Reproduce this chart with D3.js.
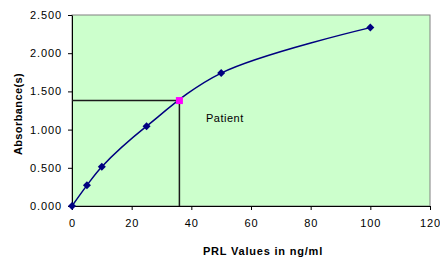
<!DOCTYPE html>
<html><head><meta charset="utf-8">
<script src="https://cdn.jsdelivr.net/npm/d3@7"></script>
<style>body{margin:0;background:#fff}svg{display:block;font-family:"Liberation Sans",Arial,sans-serif}</style>
</head><body>
<svg id="c" width="440" height="258"></svg>
<script>
const concentrations = [0, 5, 10, 25, 50, 100];
const absorbances = [0, 0.27, 0.515, 1.045, 1.74, 2.335];
const patientValue = [36, 1.38];
const xTicks = [0, 20, 40, 60, 80, 100, 120];
const yTicks = [0, 0.5, 1.0, 1.5, 2.0, 2.5];
const xTitle = "PRL Values in ng/ml";
const yTitle = "Absorbance(s)";
const patientLabel = "Patient";

const svg = d3.select("#c");
const L = 72, R = 430, T = 15, B = 206;
const x = d3.scaleLinear().domain([0, 120]).range([L, R]);
const y = d3.scaleLinear().domain([0, 2.5]).range([B, T]);

svg.append("rect").attr("x", L).attr("y", T).attr("width", R - L).attr("height", B - T)
  .attr("fill", "#CCFFCC").attr("stroke", "#808080").attr("stroke-width", 1);

// axes
const xa = svg.append("g").attr("transform", `translate(0,${B})`)
  .call(d3.axisBottom(x).tickValues(xTicks).tickSize(4).tickSizeOuter(0).tickFormat(d3.format("d")));
const ya = svg.append("g").attr("transform", `translate(${L},0)`)
  .call(d3.axisLeft(y).tickValues(yTicks).tickSize(4).tickSizeOuter(0).tickFormat(d3.format(".3f")));
[xa, ya].forEach(a => {
  a.select(".domain").attr("stroke", "#000").attr("stroke-width", 1);
  a.selectAll(".tick line").attr("stroke", "#000");
  a.selectAll("text").attr("font-size", 11).attr("fill", "#000").attr("letter-spacing", 0.9)
    .attr("font-family", '"Liberation Sans",Arial,sans-serif');
});
xa.selectAll("text").attr("dy", "1.3em");
ya.selectAll("text").attr("x", -10);

// patient reference lines
svg.append("path")
  .attr("d", `M${x(0)},${y(patientValue[1])}H${x(patientValue[0])}V${y(0)}`)
  .attr("fill", "none").attr("stroke", "#1a1a1a").attr("stroke-width", 1.5);

// curve
svg.append("path")
  .datum(concentrations.map((c, i) => [c, absorbances[i]]))
  .attr("d", d3.line().x(d => x(d[0])).y(d => y(d[1])).curve(d3.curveCatmullRom.alpha(0.5)))
  .attr("fill", "none").attr("stroke", "#000080").attr("stroke-width", 1.5);

// markers
svg.selectAll(".pt").data(concentrations).enter().append("path")
  .attr("transform", (c, i) => `translate(${x(c)},${y(absorbances[i])})`)
  .attr("d", "M0,-4L4,0L0,4L-4,0Z").attr("fill", "#000080");

svg.append("rect")
  .attr("x", x(patientValue[0]) - 3.5).attr("y", y(patientValue[1]) - 3.5)
  .attr("width", 7).attr("height", 7).attr("fill", "#FF00FF");

svg.append("text").attr("x", 206).attr("y", 122).attr("font-size", 11).attr("letter-spacing", 0.5).text(patientLabel);

svg.append("text").attr("x", 263).attr("y", 255).attr("text-anchor", "middle")
  .attr("font-size", 11).attr("font-weight", "bold").attr("letter-spacing", 0.8).text(xTitle);
svg.append("text").attr("transform", "translate(22,114) rotate(-90)").attr("text-anchor", "middle")
  .attr("font-size", 11).attr("font-weight", "bold").attr("letter-spacing", 0.4).text(yTitle);
</script>
</body></html>
